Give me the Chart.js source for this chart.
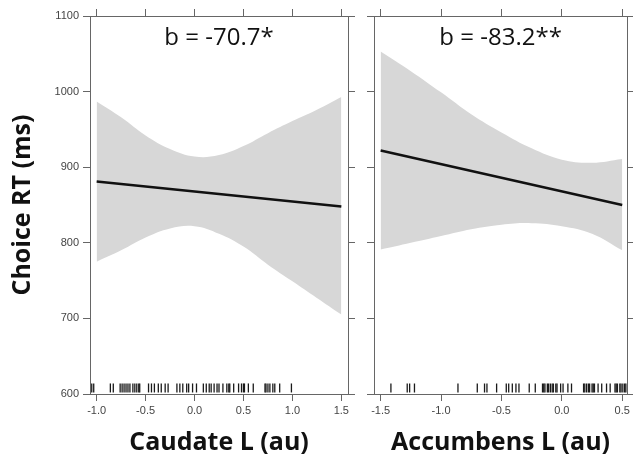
<!DOCTYPE html>
<html>
<head>
<meta charset="utf-8">
<script src="https://cdn.jsdelivr.net/npm/chart.js@4/dist/chart.umd.min.js"></script>
<style>
  html, body { margin: 0; padding: 0; background: #fff; overflow: hidden; }
  #wrap { position: relative; width: 633px; height: 457px; }
  canvas { position: absolute; top: 0; }
  #leftPanel { left: 0; }
  #rightPanel { left: 366px; }
</style>
</head>
<body>
<div id="wrap">
  <canvas id="leftPanel" width="366" height="457"></canvas>
  <canvas id="rightPanel" width="267" height="457"></canvas>
</div>
<script>
// shared y axis
const yTicks = [600, 700, 800, 900, 1000, 1100];
const rugLevel = 608;

// Caudate L panel
const caudateTicks = [-1.0, -0.5, 0.0, 0.5, 1.0, 1.5];
const caudateX = [-1.0, -0.75, -0.5, -0.25, 0.0, 0.25, 0.5, 0.75, 1.0, 1.25, 1.5];
const caudateUpper = [987, 966, 942, 924, 914, 916, 928, 945, 961, 976, 993];
const caudateLower = [775, 790, 807, 819, 822, 812, 795, 771, 749, 727, 705];
const caudateFitX = [-1.0, 1.5];
const caudateFitY = [881, 848];
const caudateRug = [-1.05, -1.03, -0.86, -0.83, -0.76, -0.74, -0.72, -0.70, -0.68, -0.66,
  -0.63, -0.61, -0.59, -0.57, -0.56, -0.47, -0.44, -0.41, -0.37, -0.34, -0.30, -0.27,
  -0.18, -0.15, -0.12, -0.08, -0.06, -0.02, 0.02, 0.09, 0.12, 0.15, 0.17, 0.20, 0.23,
  0.25, 0.29, 0.33, 0.35, 0.36, 0.40, 0.45, 0.48, 0.50, 0.51, 0.55, 0.60, 0.72, 0.73,
  0.75, 0.77, 0.80, 0.82, 0.87, 0.99];

// Accumbens L panel
const accumbensTicks = [-1.5, -1.0, -0.5, 0.0, 0.5];
const accumbensX = [-1.5, -1.25, -1.0, -0.75, -0.5, -0.25, 0.0, 0.25, 0.5];
const accumbensUpper = [1053, 1027, 999, 970, 946, 925, 910, 906, 911];
const accumbensLower = [791, 800, 809, 818, 824, 826, 822, 812, 790];
const accumbensFitX = [-1.5, 0.5];
const accumbensFitY = [922, 850];
const accumbensRug = [-1.415, -1.28, -1.26, -1.22, -0.86, -0.70, -0.64, -0.62, -0.54,
  -0.46, -0.44, -0.41, -0.38, -0.355, -0.27, -0.22, -0.16, -0.15, -0.14, -0.12, -0.11,
  -0.095, -0.08, -0.07, -0.05, -0.04, -0.01, 0.01, 0.05, 0.08, 0.18, 0.19, 0.205, 0.22,
  0.23, 0.25, 0.26, 0.27, 0.30, 0.33, 0.37, 0.40, 0.44, 0.45, 0.46, 0.48, 0.49, 0.505,
  0.52, 0.53];

const axisColor = "#666";
const bandColor = "#d7d7d7";
const tickFont = { family: "'Liberation Sans', Arial, sans-serif", size: 11 };
const tickColor = "#444";

const pairs = (xs, ys) => xs.map((x, i) => ({ x: x, y: ys[i] }));

// pin every axis box to a fixed size so the plot boxes line up with the reference
function fixSize(size) {
  return function (scale) {
    if (scale.isHorizontal()) scale.height = size;
    else scale.width = size;
    scale.paddingLeft = 0;
    scale.paddingRight = 0;
    scale.paddingTop = 0;
    scale.paddingBottom = 0;
  };
}

function setTicks(list) {
  return function (scale) {
    scale.ticks = list.map(v => ({ value: v }));
  };
}

// horizontal frame lines run out over the tick marks, like the original
const frameExtend = {
  id: "frameExtend",
  afterDraw(chart) {
    const { ctx, chartArea: a } = chart;
    ctx.save();
    ctx.strokeStyle = axisColor;
    ctx.lineWidth = 1;
    ctx.beginPath();
    [a.top, a.bottom].forEach(y => {
      const yy = Math.round(y) + 0.5;
      ctx.moveTo(a.left - 7, yy);
      ctx.lineTo(a.right + 7, yy);
    });
    ctx.stroke();
    ctx.restore();
  }
};

function panelLabel(text) {
  return {
    id: "panelLabel",
    afterDraw(chart) {
      const { ctx, chartArea: a } = chart;
      ctx.save();
      ctx.font = "24px 'Open Sans', sans-serif";
      ctx.fillStyle = "#111";
      ctx.textAlign = "center";
      ctx.textBaseline = "middle";
      ctx.fillText(text, (a.left + a.right) / 2, a.top + 22);
      ctx.restore();
    }
  };
}

function makePanel(canvasId, opt) {
  const grid = { drawOnChartArea: false, drawTicks: true, tickLength: 7, color: axisColor, lineWidth: 1 };
  const border = { display: true, color: axisColor, width: 1 };
  const titleFont = { family: "'Open Sans', sans-serif", size: 25, weight: "bold" };

  new Chart(document.getElementById(canvasId), {
    type: "line",
    data: {
      datasets: [
        {
          data: pairs(opt.bandX, opt.lower),
          borderWidth: 0,
          pointRadius: 0,
          tension: 0.4,
          fill: false
        },
        {
          data: pairs(opt.bandX, opt.upper),
          borderWidth: 0,
          pointRadius: 0,
          tension: 0.4,
          fill: "-1",
          backgroundColor: bandColor
        },
        {
          data: pairs(opt.fitX, opt.fitY),
          borderColor: "#111",
          borderWidth: 2.5,
          pointRadius: 0,
          fill: false
        },
        {
          type: "scatter",
          data: opt.rug.map(v => ({ x: v, y: rugLevel })),
          pointStyle: "line",
          rotation: 90,
          radius: 4.5,
          borderWidth: 1.3,
          borderColor: "#1a1a1a",
          backgroundColor: "#1a1a1a"
        }
      ]
    },
    options: {
      responsive: false,
      animation: false,
      events: [],
      layout: { padding: 0 },
      plugins: {
        legend: { display: false },
        tooltip: { enabled: false },
        title: { display: false },
        filler: { drawTime: "beforeDatasetsDraw" }
      },
      scales: {
        x: {
          type: "linear", position: "bottom", min: opt.xMin, max: opt.xMax,
          grid: grid, border: border,
          afterBuildTicks: setTicks(opt.xTicks),
          afterFit: fixSize(63),
          ticks: {
            font: tickFont, color: tickColor, padding: 3, maxRotation: 0, autoSkip: false,
            callback: v => v.toFixed(1)
          },
          title: {
            display: true, text: opt.xTitle, color: "#111",
            font: Object.assign({}, titleFont, { lineHeight: 1.1 }),
            padding: { top: 0, bottom: 0 }
          }
        },
        x2: {
          type: "linear", position: "top", min: opt.xMin, max: opt.xMax,
          grid: grid, border: border,
          afterBuildTicks: setTicks(opt.xTicks),
          afterFit: fixSize(16),
          ticks: { display: false }
        },
        y: {
          type: "linear", position: "left", min: 600, max: 1100,
          grid: grid, border: border,
          afterBuildTicks: setTicks(yTicks),
          afterFit: fixSize(opt.leftW),
          ticks: {
            display: opt.yLabels, font: tickFont, color: tickColor, padding: 4,
            callback: v => String(v)
          },
          title: {
            display: !!opt.yTitle, text: opt.yTitle || "", color: "#111",
            font: titleFont, padding: { top: 8, bottom: 0 }
          }
        },
        y2: {
          type: "linear", position: "right", min: 600, max: 1100,
          grid: grid, border: border,
          afterBuildTicks: setTicks(yTicks),
          afterFit: fixSize(opt.rightW),
          ticks: { display: false }
        }
      }
    },
    plugins: [frameExtend, panelLabel(opt.label)]
  });
}

makePanel("leftPanel", {
  xMin: -1.068, xMax: 1.568, xTicks: caudateTicks,
  bandX: caudateX, upper: caudateUpper, lower: caudateLower,
  fitX: caudateFitX, fitY: caudateFitY, rug: caudateRug,
  xTitle: "Caudate L (au)", yTitle: "Choice RT (ms)", yLabels: true,
  leftW: 90, rightW: 18, label: "b = -70.7*"
});

makePanel("rightPanel", {
  xMin: -1.555, xMax: 0.541, xTicks: accumbensTicks,
  bandX: accumbensX, upper: accumbensUpper, lower: accumbensLower,
  fitX: accumbensFitX, fitY: accumbensFitY, rug: accumbensRug,
  xTitle: "Accumbens L (au)", yTitle: null, yLabels: false,
  leftW: 8, rightW: 3, label: "b = -83.2**"
});
</script>
</body>
</html>
